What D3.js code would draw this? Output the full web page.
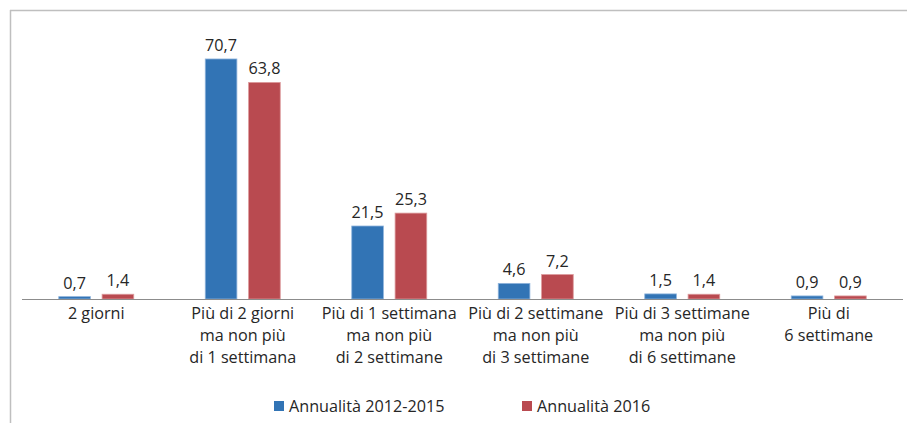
<!DOCTYPE html>
<html>
<head>
<meta charset="utf-8">
<script src="https://cdn.jsdelivr.net/npm/d3@7"></script>
<style>
  body { margin: 0; background: #fff; }
  text { font-family: "Open Sans", "Liberation Sans", Arial, sans-serif; fill: #262626; }
</style>
</head>
<body>
<div id="chart"></div>
<script>
// data
var categories = [
  ["2 giorni"],
  ["Più di 2 giorni", "ma non più", "di 1 settimana"],
  ["Più di 1 settimana", "ma non più", "di 2 settimane"],
  ["Più di 2 settimane", "ma non più", "di 3 settimane"],
  ["Più di 3 settimane", "ma non più", "di 6 settimane"],
  ["Più di", "6 settimane"]
];
var seriesNames = ["Annualità 2012-2015", "Annualità 2016"];
var values2012_2015 = [0.7, 70.7, 21.5, 4.6, 1.5, 0.9];
var values2016 = [1.4, 63.8, 25.3, 7.2, 1.4, 0.9];
var colors = ["#3274b5", "#b94a50"];

var width = 907, height = 423;
var fontSize = "16.2px";

var svg = d3.select("#chart")
  .append("svg")
  .attr("width", width)
  .attr("height", height);

// outer frame (top and left edges visible)
svg.append("line").attr("x1", 10).attr("x2", 907).attr("y1", 10.5).attr("y2", 10.5)
  .attr("stroke", "#bfbfbf").attr("stroke-width", 1.5);
svg.append("line").attr("x1", 10.5).attr("x2", 10.5).attr("y1", 10).attr("y2", 423)
  .attr("stroke", "#bfbfbf").attr("stroke-width", 1.5);

var x = d3.scaleBand().domain(d3.range(categories.length)).range([23, 902]);
var x1 = d3.scaleBand().domain([0, 1]).range([0, 75]).paddingInner(0.27);
var y = d3.scaleLinear().domain([0, 80]).range([299, 27.4]);

var groups = svg.append("g")
  .selectAll("g")
  .data(categories.map(function (c, i) {
    return { i: i, vals: [values2012_2015[i], values2016[i]] };
  }))
  .enter()
  .append("g")
  .attr("transform", function (d) {
    return "translate(" + (x(d.i) + x.bandwidth() / 2 - 37.5) + ",0)";
  });

groups.selectAll("rect")
  .data(function (d) { return d.vals.map(function (v, k) { return { v: v, k: k }; }); })
  .enter()
  .append("rect")
  .attr("x", function (d) { return x1(d.k); })
  .attr("y", function (d) { return y(d.v); })
  .attr("width", x1.bandwidth())
  .attr("height", function (d) { return y(0) - y(d.v); })
  .attr("fill", function (d) { return colors[d.k]; })
  .attr("stroke", function (d) { return d.k == 0 ? "#8fb4dc" : "#dc9a9c"; })
  .attr("stroke-width", 0.8);

groups.selectAll("text")
  .data(function (d) { return d.vals.map(function (v, k) { return { v: v, k: k }; }); })
  .enter()
  .append("text")
  .attr("x", function (d) { return x1(d.k) + x1.bandwidth() / 2; })
  .attr("y", function (d) { return y(d.v) - 8; })
  .attr("text-anchor", "middle")
  .style("font-size", fontSize)
  .text(function (d) { return d.v.toFixed(1).replace(".", ","); });

// x axis line
svg.append("line")
  .attr("x1", 22).attr("x2", 903)
  .attr("y1", y(0) + 0.5).attr("y2", y(0) + 0.5)
  .attr("stroke", "#8c8c8c").attr("stroke-width", 1);

// category labels
svg.append("g")
  .selectAll("text")
  .data(categories)
  .enter()
  .append("text")
  .attr("text-anchor", "middle")
  .attr("x", function (d, i) { return x(i) + x.bandwidth() / 2; })
  .attr("y", 319)
  .style("font-size", fontSize)
  .each(function (d, i) {
    var t = d3.select(this);
    var cx = x(i) + x.bandwidth() / 2;
    d.forEach(function (line, j) {
      t.append("tspan").attr("x", cx).attr("dy", j == 0 ? 0 : 22).text(line);
    });
  });

// legend
var legendX = [274, 522];
var legend = svg.append("g")
  .selectAll("g")
  .data(seriesNames)
  .enter()
  .append("g")
  .attr("transform", function (d, i) { return "translate(" + legendX[i] + ",401)"; });
legend.append("rect").attr("width", 10).attr("height", 10)
  .attr("fill", function (d, i) { return colors[i]; });
legend.append("text").attr("x", 15).attr("y", 10.5)
  .style("font-size", fontSize)
  .text(function (d) { return d; });
</script>
</body>
</html>
